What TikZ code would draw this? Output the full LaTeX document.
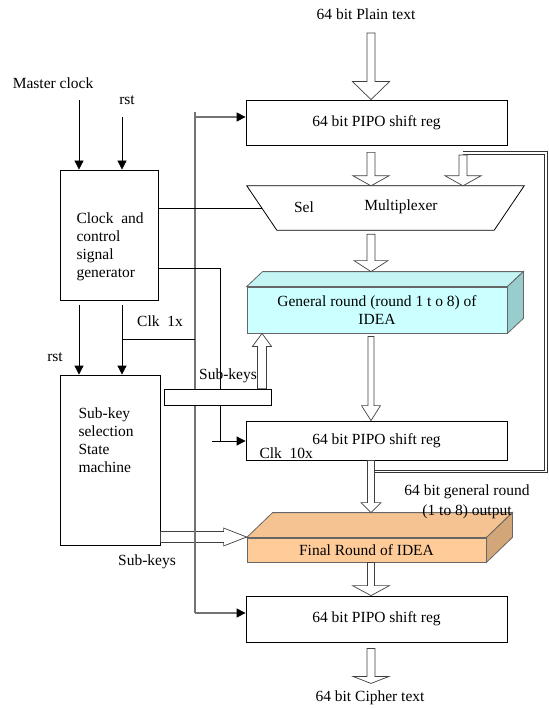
\documentclass[tikz,border=0pt]{standalone}
\usepackage{fontspec}
\setmainfont{Liberation Serif}
\usepackage{xcolor}
\usepackage{tikz}
\usetikzlibrary{calc,arrows.meta}

\definecolor{genfront}{HTML}{CCFFFF}
\definecolor{gentop}{HTML}{C4F4F4}
\definecolor{genside}{HTML}{99CCCC}
\definecolor{finfront}{HTML}{FFCC99}
\definecolor{fintop}{HTML}{F5C391}
\definecolor{finside}{HTML}{D2A678}

\newcommand{\hollowarrow}[5]{%
  \path (#4) coordinate (ha) (#5) coordinate (hb) ($(hb)!#3!(ha)$) coordinate (hn);
  \draw[hollow] ($(ha)!#1!90:(hb)$) -- ($(hn)!#1!90:(hb)$) -- ($(hn)!#2!90:(hb)$) -- (hb)
    -- ($(hn)!#2!-90:(hb)$) -- ($(hn)!#1!-90:(hb)$) -- ($(ha)!#1!-90:(hb)$) -- cycle;}

\begin{document}
\begin{tikzpicture}[x=1pt,y=-1pt,font=\fontsize{15.5}{18}\selectfont,
    box/.style={draw,line width=0.8pt,inner sep=0pt},
    wire/.style={line width=0.8pt},
    sig/.style={wire,-{Triangle[length=9pt,width=9pt]}},
    bus/.style={line width=1.2pt,black!55},
    hollow/.style={draw=black!75,fill=white,line width=0.7pt},
    cube/.style={draw=black!60,line width=0.8pt},
    fback/.style={double=white,double distance=1.8pt,line width=0.9pt,draw=black!80}]
    \useasboundingbox (0,0) rectangle (548,708);

    \coordinate (col) at (371,0);

    \node (plain) at (366,14) {64 bit Plain text};
    \node[box,minimum width=261pt,minimum height=45pt] (reg1) at (376.5,122.5) {64 bit PIPO shift reg};
    \node[minimum width=277pt,minimum height=44pt,inner sep=0pt] (mux) at (385.5,208) {};
    \draw[wire] (mux.north west) -- (mux.north east) -- ([xshift=-30pt]mux.south east) -- ([xshift=30pt]mux.south west) -- cycle;
    \node (sel) at (304,207) {Sel};
    \node (muxlbl) at (401,207) {Multiplexer};

    \node[box,cube,fill=genfront,minimum width=260pt,minimum height=46pt,align=center] (gen) at (377,310) {General round (round 1 t o 8) of\\IDEA};
    \draw[cube,fill=gentop] (gen.north west) -- ++(16pt,15pt) -- ([shift={(16pt,15pt)}]gen.north east) -- (gen.north east) -- cycle;
    \draw[cube,fill=genside] (gen.north east) -- ++(16pt,15pt) -- ([shift={(16pt,15pt)}]gen.south east) -- (gen.south east) -- cycle;

    \node[box,minimum width=261pt,minimum height=39pt] (reg2) at (376.5,440.5) {64 bit PIPO shift reg};
    \node[anchor=west] (clk10x) at (256,453) {Clk~~10x};

    \node[box,cube,fill=finfront,minimum width=239pt,minimum height=24pt] (final) at (366.5,550) {Final Round of IDEA};
    \draw[cube,fill=fintop] (final.north west) -- ++(26pt,25pt) -- ([shift={(26pt,25pt)}]final.north east) -- (final.north east) -- cycle;
    \draw[cube,fill=finside] (final.north east) -- ++(26pt,25pt) -- ([shift={(26pt,25pt)}]final.south east) -- (final.south east) -- cycle;
    \node[align=center] (outlbl) at (467,502) {64 bit general round\\[2pt](1 to 8) output};

    \node[box,minimum width=261pt,minimum height=46pt] (reg3) at (376.5,619) {64 bit PIPO shift reg};
    \node (cipher) at (370,698) {64 bit Cipher text};

    \node (master) at (53,83) {Master clock};
    \node (rstin) at (127,100) {rst};
    \coordinate (mc) at (79,100);
    \coordinate (rc) at (122,117);
    \node[box,minimum width=98pt,minimum height=130pt] (clk) at (109,235) {};
    \node[anchor=west,align=left] (clktxt) at (73,247) {Clock~~and\\control\\signal\\generator};
    \node[box,minimum width=100pt,minimum height=170pt] (sub) at (110,460) {};
    \node[anchor=west,align=left] (subtxt) at (75,440) {Sub-key\\selection\\State\\machine};
    \node (rstlbl) at (55,357) {rst};
    \node (clk1x) at (160,321) {Clk~~1x};

    \draw[sig] (mc) -- (mc |- clk.north);
    \draw[sig] (rc) -- (rc |- clk.north);
    \draw[sig,shorten <=5pt] (clk.south -| mc) -- (sub.north -| mc);
    \draw[sig,shorten <=5pt] (clk.south -| rc) -- (sub.north -| rc);

    \coordinate (sk2) at (0,537);
    \hollowarrow{5.5pt}{9pt}{23pt}{sub.east |- sk2}{final.west |- sk2}

    \coordinate (busT) at (195,112);
    \coordinate (busB) at (195,613);
    \coordinate (b1) at (195,117);
    \coordinate (c1) at (122,339);
    \draw[bus] (busT) -- (busB);
    \draw[bus,-{Triangle[length=9pt,width=9pt,color=black]}] (b1) -- (b1 -| reg1.west);
    \draw[bus,-{Triangle[length=9pt,width=9pt,color=black]}] (busB) -- (busB -| reg3.west);
    \draw[wire] (c1) -- (c1 -| busB);

    \coordinate (muxin) at ($(mux.west)+(15,0)$);
    \draw[wire] (clk.east |- muxin) -- (muxin);
    \coordinate (c10) at (220,268);
    \coordinate (stub) at (212,441);
    \draw[wire] (clk.east |- c10) -- (c10) -- (c10 |- stub);
    \draw[sig] (stub) -- (stub -| reg2.west);

    \node[box,fill=white,minimum width=107pt,minimum height=16pt] (subk) at (217.5,397) {};
    \coordinate (sk) at (262,0);
    \hollowarrow{4.5pt}{9.5pt}{13pt}{subk.north -| sk}{gen.south -| sk}
    \node (subklbl) at (228,376) {Sub-keys};
    \node (subklbl2) at (147,562) {Sub-keys};

    \coordinate (fb) at ($(reg2.south -| col)+(3.5,11)$);
    \coordinate (fbr) at (546,153);
    \coordinate (fbt) at (463,153);
    \draw[fback] (fb) -| (fbr) -- (fbt);

    \hollowarrow{4pt}{18.5pt}{18pt}{$(plain.south -| col)+(0,10)$}{reg1.north -| col}
    \hollowarrow{4pt}{18pt}{10pt}{$(reg1.south -| col)+(0,7)$}{mux.north -| col}
    \hollowarrow{4pt}{18pt}{10pt}{$(fbt)+(0,2)$}{mux.north -| fbt}
    \hollowarrow{4pt}{17pt}{11pt}{$(mux.south -| col)+(0,4)$}{$(gen.north -| col)+(0,-15)$}
    \hollowarrow{3pt}{9.5pt}{15pt}{$(gen.south -| col)+(0,3)$}{reg2.north -| col}
    \hollowarrow{3.5pt}{10pt}{10pt}{reg2.south -| col}{$(final.north -| col)+(0,-25)$}
    \hollowarrow{3.5pt}{18.5pt}{10pt}{final.south -| col}{reg3.north -| col}
    \hollowarrow{4pt}{18pt}{7pt}{$(reg3.south -| col)+(0,6)$}{$(cipher.north -| col)+(0,-4)$}
\end{tikzpicture}
\end{document}
